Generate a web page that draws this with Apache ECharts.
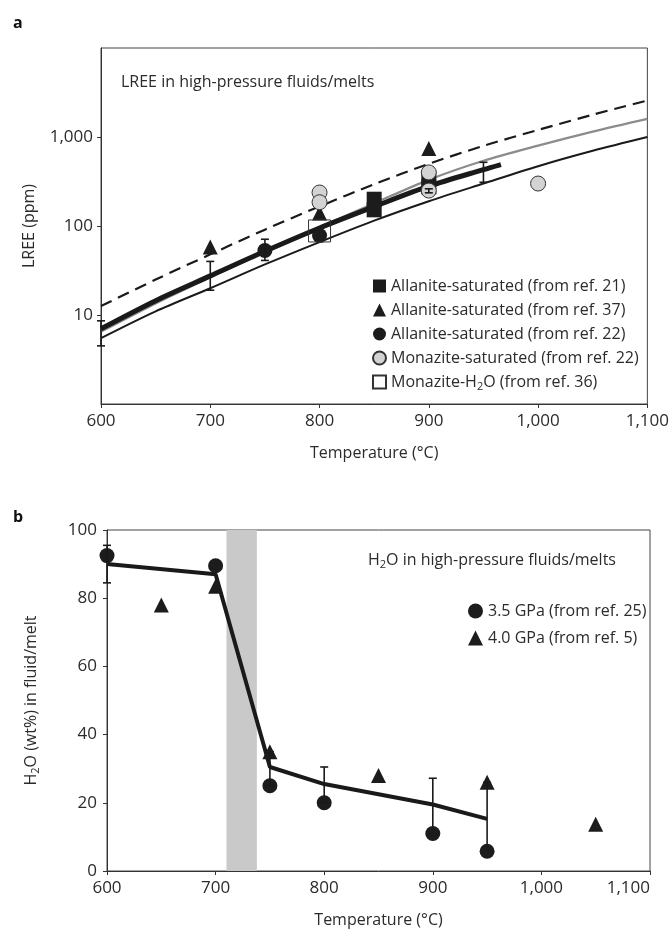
<!DOCTYPE html>
<html>
<head>
<meta charset="utf-8">
<script src="https://cdn.jsdelivr.net/npm/echarts@6/dist/echarts.min.js"></script>
<style>
html, body { margin: 0; padding: 0; background: #fff; }
#chart { width: 672px; height: 929px; }
</style>
</head>
<body>
<div id="chart"></div>
<script>
// ---- panel a: LREE (ppm) vs temperature ----
const tempA = [600, 650, 700, 750, 800, 850, 900, 950, 1000, 1050, 1100]
const dashedA = [12.6, 25, 48, 91, 166, 295, 500, 795, 1200, 1780, 2570]
const grayA = [6.5, 13.5, 26.5, 51, 97, 180, 330, 540, 800, 1150, 1600]
const thinA = [5.5, 11, 20, 37, 66, 115, 190, 300, 470, 700, 1000]
const thickTempA = [600, 650, 700, 750, 800, 850, 900, 950, 966]
const thickA = [7, 14.5, 27.5, 52, 95, 165, 280, 430, 490]

const ref21T = [850, 850, 900, 900]
const ref21V = [200, 152, 340, 275]
const ref37T = [700, 800, 900]
const ref37V = [58, 140, 745]
const ref22T = [750, 800]
const ref22V = [53, 78]
const monT = [800, 800, 900, 900, 1000]
const monV = [238, 185, 400, 250, 300]
const monH2OT = [800]
const monH2OV = [88]

const errTA = [600, 700, 750, 900, 950]
const errLoA = [4.5, 19, 41, 236, 310]
const errHiA = [8.6, 40, 71, 262, 520]

const yTicksA = [10, 100, 1000]

// ---- panel b: H2O (wt%) vs temperature ----
const lineTB = [600, 700, 750, 800, 900, 950]
const lineVB = [90, 87, 30.5, 25.5, 19.5, 15.3]
const gpa35T = [600, 700, 750, 800, 900, 950]
const gpa35V = [92.5, 89.5, 25, 20, 11, 5.8]
const gpa40T = [650, 700, 750, 850, 950, 1050]
const gpa40V = [78, 83.5, 35, 28, 26, 13.7]
const errTB = [600, 750, 800, 900, 950]
const errLoB = [84.5, 25, 20, 11, 5.8]
const errHiB = [95.5, 35, 30.5, 27.2, 26]
const band = [710, 738]

const font = "'Open Sans', sans-serif"
const ink = '#2b2b2b'
const names = {
  r21: 'Allanite-saturated (from ref. 21)',
  r37: 'Allanite-saturated (from ref. 37)',
  r22: 'Allanite-saturated (from ref. 22)',
  mon: 'Monazite-saturated (from ref. 22)',
  h2o: 'Monazite-H2O (from ref. 36)',
  g35: '3.5 GPa (from ref. 25)',
  g40: '4.0 GPa (from ref. 5)'
}
const sub = { fontSize: 11, padding: [9, 0, 0, 0], fontFamily: font, color: ink }

const zip = (xs, ys) => xs.map((x, i) => [x, ys[i]])
const fmtNum = (v) => Math.round(v).toLocaleString('en-US')

const errorBars = (idx, ts, lo, hi) => ({
  type: 'custom',
  xAxisIndex: idx,
  yAxisIndex: idx,
  silent: true,
  z: 5,
  encode: { x: 0, y: [1, 2] },
  data: ts.map((t, i) => [t, lo[i], hi[i]]),
  renderItem: (params, api) => {
    const top = api.coord([api.value(0), api.value(2)])
    const bot = api.coord([api.value(0), api.value(1)])
    const w = 4
    const style = { stroke: '#1a1a1a', lineWidth: 1.6 }
    return {
      type: 'group',
      children: [
        { type: 'line', shape: { x1: top[0], y1: top[1], x2: bot[0], y2: bot[1] }, style },
        { type: 'line', shape: { x1: top[0] - w, y1: top[1], x2: top[0] + w, y2: top[1] }, style },
        { type: 'line', shape: { x1: bot[0] - w, y1: bot[1], x2: bot[0] + w, y2: bot[1] }, style }
      ]
    }
  }
})

const axisCommon = {
  axisLine: { show: true, lineStyle: { color: '#333', width: 1 } },
  axisTick: { show: true, inside: false, length: 4, lineStyle: { color: '#333' } },
  splitLine: { show: false },
  axisLabel: { color: ink, fontFamily: font, fontSize: 17 },
  nameTextStyle: { color: ink, fontFamily: font, fontSize: 16 }
}
const dark = { color: '#1c1c1c', opacity: 1 }

const chart = echarts.init(document.getElementById('chart'), null, { renderer: 'canvas' })

chart.setOption({
  animation: false,
  backgroundColor: '#fff',
  title: [
    { text: 'a', left: 8, top: 10, textStyle: { fontFamily: font, fontSize: 16, fontWeight: 'bold', color: '#111' } },
    { text: 'b', left: 8, top: 504, textStyle: { fontFamily: font, fontSize: 16, fontWeight: 'bold', color: '#111' } },
    { text: 'LREE in high-pressure fluids/melts', left: 116, top: 69, textStyle: { fontFamily: font, fontSize: 16, fontWeight: 'normal', color: ink } },
    {
      text: 'H{sub|2}O in high-pressure fluids/melts', left: 363, top: 545,
      textStyle: { fontFamily: font, fontSize: 16, fontWeight: 'normal', color: ink, rich: { sub } }
    }
  ],
  legend: [
    {
      orient: 'vertical', left: 367, top: 273, itemWidth: 13, itemHeight: 13, itemGap: 8,
      data: [names.r21, names.r37, names.r22, names.mon, names.h2o],
      formatter: (n) => n === names.h2o ? 'Monazite-H{sub|2}O (from ref. 36)' : n,
      textStyle: { fontFamily: font, fontSize: 16, color: ink, lineHeight: 16, rich: { sub } }
    },
    {
      orient: 'vertical', left: 463, top: 598, itemWidth: 15, itemHeight: 15, itemGap: 11,
      data: [names.g35, names.g40],
      textStyle: { fontFamily: font, fontSize: 16, color: ink, lineHeight: 16 }
    }
  ],
  grid: [
    { left: 101, right: 20, top: 48, height: 356, show: true, borderColor: '#444', borderWidth: 1 },
    { left: 107, right: 22, top: 530, height: 341, show: true, borderColor: '#444', borderWidth: 1 }
  ],
  xAxis: [
    {
      ...axisCommon, gridIndex: 0, type: 'value', min: 600, max: 1100, interval: 100,
      name: 'Temperature (°C)', nameLocation: 'middle', nameGap: 41,
      axisLabel: { ...axisCommon.axisLabel, margin: 9, formatter: fmtNum }
    },
    {
      ...axisCommon, gridIndex: 1, type: 'value', min: 600, max: 1100, interval: 100,
      name: 'Temperature (°C)', nameLocation: 'middle', nameGap: 41,
      axisLabel: { ...axisCommon.axisLabel, margin: 9, formatter: fmtNum, alignMaxLabel: 'right' }
    }
  ],
  yAxis: [
    {
      ...axisCommon, gridIndex: 0, type: 'log', logBase: 10, min: 1, max: 10000,
      name: 'LREE (ppm)', nameLocation: 'middle', nameGap: 64,
      axisLabel: {
        ...axisCommon.axisLabel, margin: 8, showMinLabel: false, showMaxLabel: false,
        formatter: (v) => yTicksA.includes(Math.round(v)) ? fmtNum(v) : ''
      }
    },
    {
      ...axisCommon, gridIndex: 1, type: 'value', min: 0, max: 100, interval: 20,
      name: 'H{sub|2}O (wt%) in fluid/melt', nameLocation: 'middle', nameGap: 66,
      nameTextStyle: { ...axisCommon.nameTextStyle, rich: { sub } },
      axisLabel: { ...axisCommon.axisLabel, margin: 10 }
    }
  ],
  series: [
    // panel a curves
    {
      type: 'line', xAxisIndex: 0, yAxisIndex: 0, data: zip(tempA, dashedA), smooth: 0.3,
      symbol: 'none', lineStyle: { color: '#1a1a1a', width: 2.2, type: [12, 7] }, z: 2
    },
    {
      type: 'line', xAxisIndex: 0, yAxisIndex: 0, data: zip(tempA, grayA), smooth: 0.3,
      symbol: 'none', lineStyle: { color: '#8c8c8c', width: 2.2 }, z: 2
    },
    {
      type: 'line', xAxisIndex: 0, yAxisIndex: 0, data: zip(tempA, thinA), smooth: 0.3,
      symbol: 'none', lineStyle: { color: '#1a1a1a', width: 2 }, z: 2
    },
    {
      type: 'line', xAxisIndex: 0, yAxisIndex: 0, data: zip(thickTempA, thickA), smooth: 0.3,
      symbol: 'none', lineStyle: { color: '#1a1a1a', width: 5 }, z: 3
    },
    // panel a points
    {
      name: names.r21, type: 'scatter', xAxisIndex: 0, yAxisIndex: 0, data: zip(ref21T, ref21V),
      symbol: 'rect', symbolSize: 15, itemStyle: dark, z: 4
    },
    {
      name: names.r37, type: 'scatter', xAxisIndex: 0, yAxisIndex: 0, data: zip(ref37T, ref37V),
      symbol: 'triangle', symbolSize: 15, itemStyle: dark, z: 4
    },
    {
      name: names.mon, type: 'scatter', xAxisIndex: 0, yAxisIndex: 0, data: zip(monT, monV),
      symbol: 'circle', symbolSize: 15, itemStyle: { color: '#d3d3d3', borderColor: '#333', borderWidth: 1, opacity: 1 }, z: 4
    },
    {
      name: names.r22, type: 'scatter', xAxisIndex: 0, yAxisIndex: 0, data: zip(ref22T, ref22V),
      symbol: 'circle', symbolSize: 15, itemStyle: dark, z: 4
    },
    {
      name: names.h2o, type: 'scatter', xAxisIndex: 0, yAxisIndex: 0, data: zip(monH2OT, monH2OV),
      symbol: 'rect', symbolSize: 22, itemStyle: { color: 'rgba(255,255,255,0)', borderColor: '#333', borderWidth: 1, opacity: 1 }, z: 5
    },
    errorBars(0, errTA, errLoA, errHiA),

    // panel b
    {
      type: 'line', xAxisIndex: 1, yAxisIndex: 1, data: [], z: 1,
      markArea: { silent: true, itemStyle: { color: '#c9c9c9' }, data: [[{ xAxis: band[0] }, { xAxis: band[1] }]] }
    },
    {
      type: 'line', xAxisIndex: 1, yAxisIndex: 1, data: zip(lineTB, lineVB),
      symbol: 'none', lineStyle: { color: '#1a1a1a', width: 4 }, z: 3
    },
    errorBars(1, errTB, errLoB, errHiB),
    {
      name: names.g35, type: 'scatter', xAxisIndex: 1, yAxisIndex: 1, data: zip(gpa35T, gpa35V),
      symbol: 'circle', symbolSize: 15, itemStyle: dark, z: 4
    },
    {
      name: names.g40, type: 'scatter', xAxisIndex: 1, yAxisIndex: 1, data: zip(gpa40T, gpa40V),
      symbol: 'triangle', symbolSize: 15, itemStyle: dark, z: 4
    }
  ]
})
</script>
</body>
</html>
